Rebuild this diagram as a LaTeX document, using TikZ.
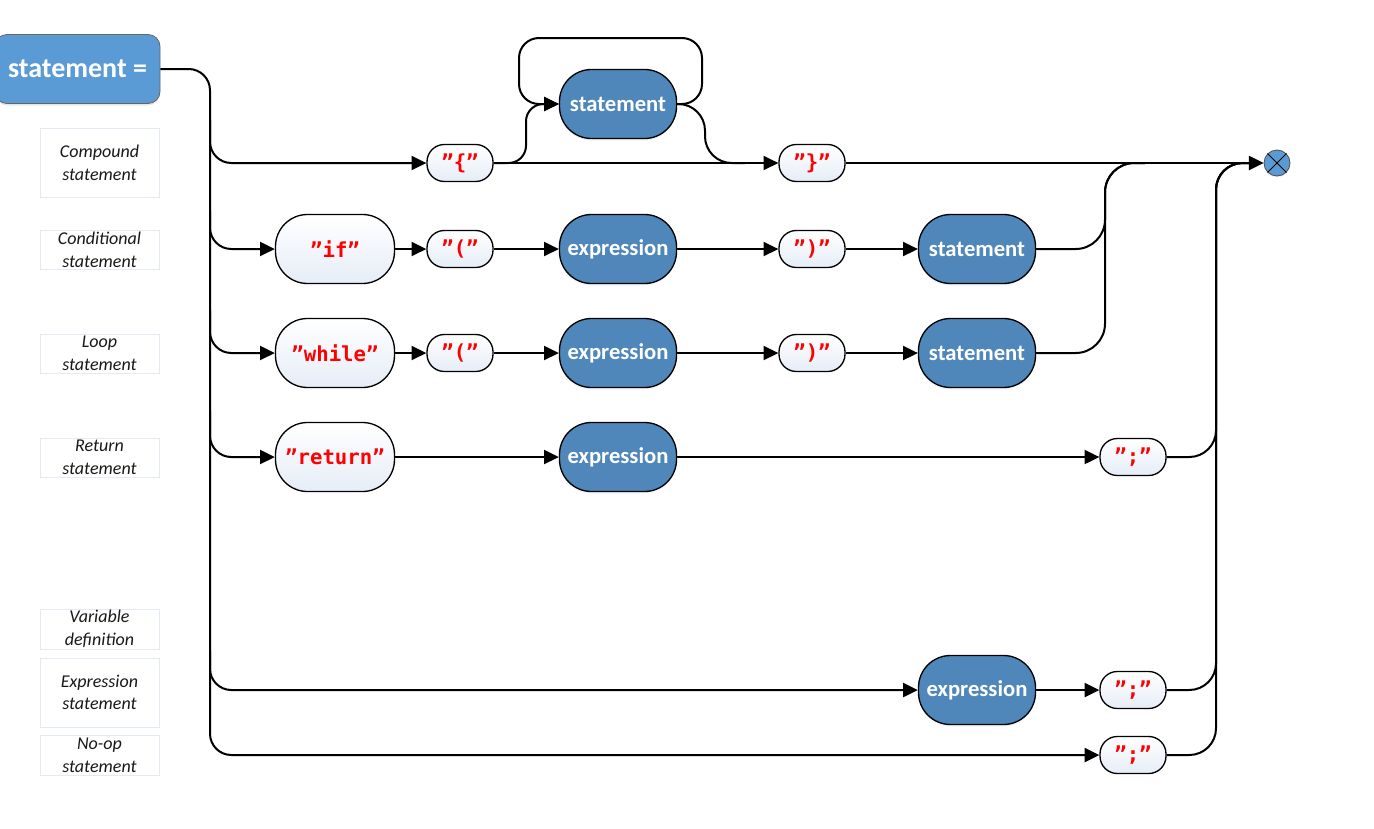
\documentclass[tikz,border=0pt]{standalone}
\usepackage{fontspec}
\setmainfont{Carlito}
\newfontfamily\monofont{DejaVu Sans Mono}
\usetikzlibrary{arrows.meta,shadows,calc}
\definecolor{ntblue}{HTML}{4F87BA}
\definecolor{hdrblue}{HTML}{5B9BD5}
\definecolor{tred}{HTML}{FF0000}
\definecolor{tfill}{HTML}{E6EDF7}
\definecolor{lblborder}{HTML}{E4EAF3}
\begin{document}
\begin{tikzpicture}[x=0.75pt,y=-0.75pt,
  line/.style={line width=1.5pt, draw=black},
  arr/.style={line, -{Triangle[length=11pt,width=10.5pt]}},
  rc/.style={rounded corners=16pt},
  nterm/.style={draw=black, line width=1pt, fill=ntblue, text=white,
    rounded corners=24pt, minimum width=87.75pt, minimum height=51.75pt,
    inner sep=0pt, font=\bfseries\fontsize{17}{20}\selectfont,
    drop shadow={opacity=0.18, shadow xshift=0pt, shadow yshift=-1.5pt, fill=ntblue!60}},
  bigterm/.style={draw=black, line width=1pt, top color=white, bottom color=tfill,
    rounded corners=24pt, minimum width=89.25pt, minimum height=51.75pt,
    inner sep=0pt, text=tred, font=\monofont\bfseries\fontsize{15.5}{18}\selectfont},
  smallterm/.style={draw=black, line width=1pt, top color=white, bottom color=tfill,
    rounded corners=13pt, minimum width=49.5pt, minimum height=27.75pt,
    inner sep=0pt, text=tred, font=\monofont\bfseries\fontsize{15.5}{18}\selectfont},
  lbl/.style={draw=lblborder, line width=0.6pt, fill=white, minimum width=89.25pt,
    align=center, inner sep=0pt, font=\itshape\fontsize{13.5}{17}\selectfont, text=black!90}
]
\useasboundingbox (0,0) rectangle (1374,828);

% header
\node[draw=black!60, line width=0.6pt, fill=hdrblue, rounded corners=9pt, text=white,
  minimum width=123.75pt, minimum height=51.75pt, inner sep=0pt,
  font=\bfseries\fontsize{21}{24}\selectfont,
  drop shadow={opacity=0.2, shadow xshift=0pt, shadow yshift=-1.5pt}] (hdr) at (77.5,69) {statement =};

% labels
\node[lbl, minimum height=51.75pt] (l1) at (99.5,162.5) {Compound\\statement};
\node[lbl, minimum height=29.25pt] (l2) at (99.5,249.5) {Conditional\\statement};
\node[lbl, minimum height=29.25pt] (l3) at (99.5,353.5) {Loop\\statement};
\node[lbl, minimum height=29.25pt] (l4) at (99.5,457.5) {Return\\statement};
\node[lbl, minimum height=30pt] (l5) at (99.5,629) {Variable\\definition};
\node[lbl, minimum height=51.75pt] (l6) at (99.5,692.5) {Expression\\statement};
\node[lbl, minimum height=30pt] (l7) at (99.5,755) {No-op\\statement};

% row 1
\node[smallterm] (lb1) at (460,163) {”\{”};
\node[nterm] (st1) at (618,104) {statement};
\node[smallterm] (rb1) at (812,163) {”\}”};
% end
\node[circle, draw=black!70, line width=0.6pt, fill=hdrblue, minimum size=19.5pt, inner sep=0pt,
  drop shadow={opacity=0.15, shadow xshift=0pt, shadow yshift=-1pt}] (end) at (1277,163) {};
\draw[line width=0.6pt] (end.north west) -- (end.south east) (end.north east) -- (end.south west);

% row 2
\node[bigterm] (if2) at (335,249) {”if”};
\node[smallterm] (lp2) at (460,249) {”(”};
\node[nterm] (ex2) at (618,249) {expression};
\node[smallterm] (rp2) at (812,249) {”)”};
\node[nterm] (st2) at (977,249) {statement};

% row 3
\node[bigterm] (wh3) at (335,353) {”while”};
\node[smallterm] (lp3) at (460,353) {”(”};
\node[nterm] (ex3) at (618,353) {expression};
\node[smallterm] (rp3) at (812,353) {”)”};
\node[nterm] (st3) at (977,353) {statement};

% row 4
\node[bigterm] (ret4) at (335,457) {”return”};
\node[nterm] (ex4) at (618,457) {expression};
\node[smallterm] (sc4) at (1133,457) {”;”};

% row 5
\node[nterm] (ex5) at (977,690) {expression};
\node[smallterm] (sc5) at (1133,690) {”;”};

% row 6
\node[smallterm] (sc6) at (1133,755) {”;”};

% trunk
\coordinate (trunk) at (210,0);
\draw[arr, rc] (hdr.east) -| (trunk |- sc6.west) -- (sc6.west);
\draw[arr, rc] (210,120) |- (lb1.west);
\draw[arr, rc] (210,210) |- (if2.west);
\draw[arr, rc] (210,310) |- (wh3.west);
\draw[arr, rc] (210,410) |- (ret4.west);
\draw[arr, rc] (210,650) |- (ex5.west);

% row 1 connectors
\draw[arr] (lb1.east) -- (rb1.west);
\draw[arr, rounded corners=13pt] (lb1.east) -| (526,104) -- (st1.west);
\draw[arr, rounded corners=15pt] (st1.east) -| (702,38) -| (519,104) -- (st1.west);
\draw[line, rounded corners=20pt] (st1.east) -| (705,163) -- (745,163);
\draw[arr] (rb1.east) -- (end.west);

% row 2 connectors
\draw[arr] (if2.east) -- (lp2.west);
\draw[arr] (lp2.east) -- (ex2.west);
\draw[arr] (ex2.east) -- (rp2.west);
\draw[arr] (rp2.east) -- (st2.west);
\draw[line, rounded corners=22pt] (st2.east) -| (1105,163) -- (1145,163);

% row 3 connectors
\draw[arr] (wh3.east) -- (lp3.west);
\draw[arr] (lp3.east) -- (ex3.west);
\draw[arr] (ex3.east) -- (rp3.west);
\draw[arr] (rp3.east) -- (st3.west);
\draw[line, rounded corners=22pt] (st3.east) -| (1105,163) -- (1145,163);

% row 4 connectors
\draw[arr] (ret4.east) -- (ex4.west);
\draw[arr] (ex4.east) -- (sc4.west);
\draw[line, rounded corners=20pt] (sc4.east) -| (1216,163) -- (1250,163);

% row 5 connectors
\draw[arr] (ex5.east) -- (sc5.west);
\draw[line, rounded corners=20pt] (sc5.east) -| (1216,163) -- (1250,163);

% row 6
\draw[line, rounded corners=20pt] (sc6.east) -| (1216,163) -- (1250,163);
\end{tikzpicture}
\end{document}
